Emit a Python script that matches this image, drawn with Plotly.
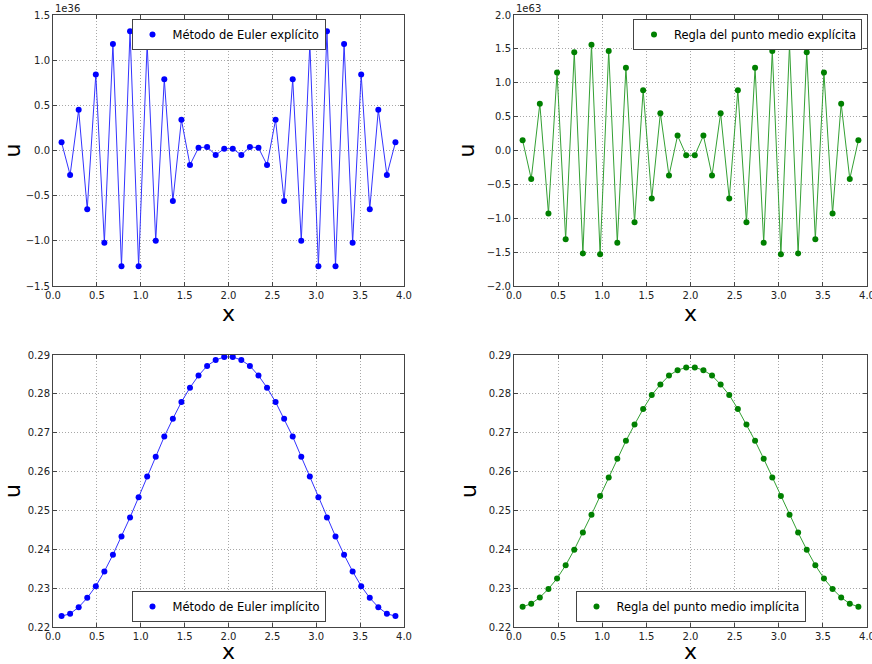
import plotly.graph_objects as go

# ---- data ----
x_vals = [0.0976, 0.1951, 0.2927, 0.3902, 0.4878, 0.5854, 0.6829, 0.7805, 0.8780, 0.9756,
          1.0732, 1.1707, 1.2683, 1.3659, 1.4634, 1.5610, 1.6585, 1.7561, 1.8537, 1.9512,
          2.0488, 2.1463, 2.2439, 2.3415, 2.4390, 2.5366, 2.6341, 2.7317, 2.8293, 2.9268,
          3.0244, 3.1220, 3.2195, 3.3171, 3.4146, 3.5122, 3.6098, 3.7073, 3.8049, 3.9024]

# explicit Euler, in units of 1e36
euler_exp = [0.09, -0.27, 0.45, -0.65, 0.84, -1.02, 1.18, -1.28, 1.32, -1.28,
             1.18, -1.00, 0.79, -0.56, 0.34, -0.16, 0.03, 0.04, -0.05, 0.02,
             0.02, -0.05, 0.04, 0.03, -0.16, 0.34, -0.56, 0.79, -1.00, 1.18,
             -1.28, 1.32, -1.28, 1.18, -1.02, 0.84, -0.65, 0.45, -0.27, 0.09]

# explicit midpoint, in units of 1e63
mid_exp = [0.15, -0.42, 0.69, -0.93, 1.15, -1.31, 1.45, -1.52, 1.56, -1.53,
           1.47, -1.36, 1.22, -1.06, 0.89, -0.71, 0.55, -0.37, 0.22, -0.07,
           -0.07, 0.22, -0.37, 0.55, -0.71, 0.89, -1.06, 1.22, -1.36, 1.47,
           -1.53, 1.56, -1.52, 1.45, -1.31, 1.15, -0.93, 0.69, -0.42, 0.15]

euler_imp = [0.2228, 0.2234, 0.2251, 0.2275, 0.2305, 0.2343, 0.2386, 0.2433, 0.2482, 0.2534,
             0.2587, 0.2638, 0.2690, 0.2736, 0.2779, 0.2816, 0.2847, 0.2872, 0.2887, 0.2895,
             0.2895, 0.2887, 0.2872, 0.2847, 0.2816, 0.2779, 0.2736, 0.2690, 0.2638, 0.2587,
             0.2534, 0.2482, 0.2433, 0.2386, 0.2343, 0.2305, 0.2275, 0.2251, 0.2234, 0.2228]

mid_imp = [0.2252, 0.2260, 0.2276, 0.2298, 0.2325, 0.2359, 0.2399, 0.2443, 0.2489, 0.2537,
           0.2585, 0.2633, 0.2679, 0.2721, 0.2761, 0.2797, 0.2824, 0.2847, 0.2861, 0.2868,
           0.2868, 0.2861, 0.2847, 0.2824, 0.2797, 0.2761, 0.2721, 0.2679, 0.2633, 0.2585,
           0.2537, 0.2489, 0.2443, 0.2399, 0.2359, 0.2325, 0.2298, 0.2276, 0.2260, 0.2252]

labels = ["Método de Euler explícito", "Regla del punto medio explícita",
          "Método de Euler implícito", "Regla del punto medio implícita"]
offsets = ["1e36", "1e63", None, None]
series = [euler_exp, mid_exp, euler_imp, mid_imp]
colors = ["#0000ff", "#008000", "#0000ff", "#008000"]
line_colors = ["#3333ff", "#33a033", "#3333ff", "#33a033"]
y_ranges = [[-1.5, 1.5], [-2.0, 2.0], [0.22, 0.29], [0.22, 0.29]]
y_dticks = [0.5, 0.5, 0.01, 0.01]
y_formats = [".1f", ".1f", ".2f", ".2f"]

W, H = 872, 664
xdom_l = [53 / W, 404 / W]
xdom_r = [514 / W, 867 / W]
ydom_t = [1 - 286 / H, 1 - 15 / H]
ydom_b = [1 - 627 / H, 1 - 355 / H]
domains = [(xdom_l, ydom_t), (xdom_r, ydom_t), (xdom_l, ydom_b), (xdom_r, ydom_b)]

FONT = "DejaVu Sans"
fig = go.Figure()
annotations = []
layout = dict(
    width=W, height=H,
    margin=dict(l=0, r=0, t=0, b=0, autoexpand=False),
    paper_bgcolor="white", plot_bgcolor="white",
    font=dict(family=FONT, size=10, color="black"),
    showlegend=True,
)

legend_pos = [
    dict(x=(xdom_l[0] + xdom_l[1]) / 2, y=1 - 19 / H, xanchor="center", yanchor="top"),
    dict(x=1 - 10 / W, y=1 - 19 / H, xanchor="right", yanchor="top"),
    dict(x=(xdom_l[0] + xdom_l[1]) / 2, y=1 - 622 / H, xanchor="center", yanchor="bottom"),
    dict(x=(xdom_r[0] + xdom_r[1]) / 2, y=1 - 622 / H, xanchor="center", yanchor="bottom"),
]

for i in range(4):
    sfx = "" if i == 0 else str(i + 1)
    xa, ya = "x" + sfx, "y" + sfx
    leg = "legend" + sfx
    fig.add_trace(go.Scatter(x=x_vals, y=series[i], mode="lines", xaxis=xa, yaxis=ya,
                             line=dict(color=line_colors[i], width=1), showlegend=False,
                             hoverinfo="skip"))
    fig.add_trace(go.Scatter(x=x_vals, y=series[i], mode="markers", xaxis=xa, yaxis=ya,
                             marker=dict(color=colors[i], size=6), name=labels[i],
                             legend=leg))
    xd, yd = domains[i]
    axis_common = dict(
        showline=True, linecolor="#444444", linewidth=1, mirror="ticks",
        ticks="inside", ticklen=4, tickcolor="#444444",
        showgrid=True, gridcolor="#a8a8a8", griddash="1px,2px", gridwidth=1,
        zeroline=False, tickfont=dict(family=FONT, size=10, color="#222222"),
        automargin=False, ticklabeloverflow="allow",
    )
    layout["xaxis" + sfx] = dict(axis_common, domain=xd, anchor=ya, range=[0, 4], dtick=0.5,
                                 tick0=0, tickformat=".1f",
                                 title=dict(text="x", font=dict(family=FONT, size=22), standoff=4))
    layout["yaxis" + sfx] = dict(axis_common, domain=yd, anchor=xa, range=y_ranges[i],
                                 dtick=y_dticks[i], tick0=0, tickformat=y_formats[i],
                                 title=dict(text="u", font=dict(family=FONT, size=22), standoff=6))
    layout[leg] = dict(legend_pos[i], bgcolor="white", bordercolor="#444444", borderwidth=1,
                       font=dict(family=FONT, size=11.5), itemwidth=30,
                       tracegroupgap=0)
    if offsets[i]:
        annotations.append(dict(text=offsets[i], x=xd[0], y=yd[1], xref="paper", yref="paper",
                                xanchor="left", yanchor="bottom", showarrow=False,
                                font=dict(family=FONT, size=10, color="#222222"),
                                yshift=-1))

layout["annotations"] = annotations
fig.update_layout(**layout)
fig.write_html("out.html", config={"displayModeBar": False},
               post_script="document.body.style.margin='0px';document.body.style.padding='0px';")
